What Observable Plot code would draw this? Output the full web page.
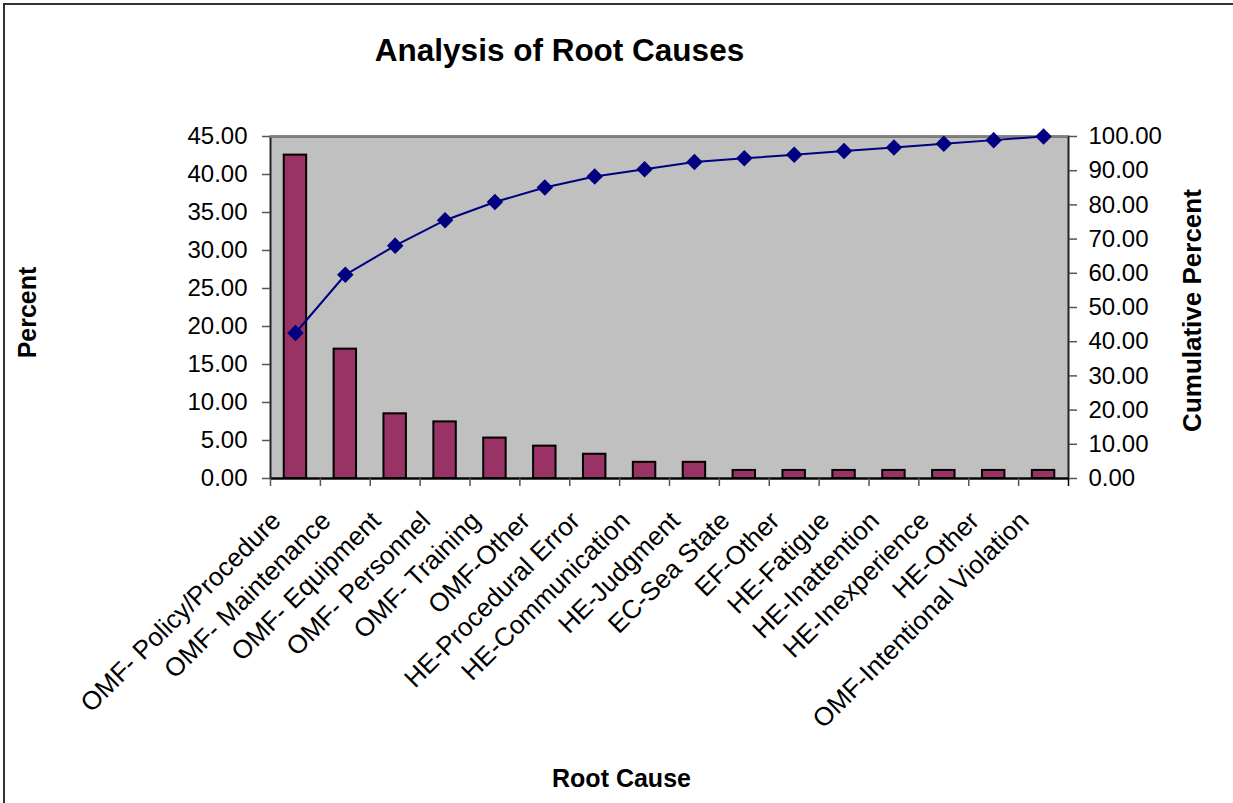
<!DOCTYPE html>
<html>
<head>
<meta charset="utf-8">
<script src="https://cdn.jsdelivr.net/npm/d3@7"></script>
<script src="https://cdn.jsdelivr.net/npm/@observablehq/plot@0.6"></script>
<style>
  html, body { margin: 0; padding: 0; background: #fff; overflow: hidden; }
  #page { position: relative; width: 1233px; height: 803px; }
  #edge { position: absolute; left: 3px; top: 3px; width: 1260px; height: 830px;
          border-left: 2px solid #333; border-top: 2px solid #333; box-sizing: border-box; }
  #chart { position: absolute; left: 0; top: 0; }
</style>
</head>
<body>
<div id="page">
  <div id="edge"></div>
  <div id="chart"></div>
</div>
<script>
// Root causes, sorted by share of incidents (Pareto order)
const causes = [
  "OMF- Policy/Procedure", "OMF- Maintenance", "OMF- Equipment", "OMF- Personnel",
  "OMF- Training", "OMF-Other", "HE-Procedural Error", "HE-Communication",
  "HE-Judgment", "EC-Sea State", "EF-Other", "HE-Fatigue",
  "HE-Inattention", "HE-Inexperience", "HE-Other", "OMF-Intentional Violation"
];
// Percent of incidents per cause
const percent = [42.55, 17.02, 8.51, 7.45, 5.32, 4.26, 3.19, 2.13, 2.13, 1.06, 1.06, 1.06, 1.06, 1.06, 1.06, 1.06];
// Running total of the percentages
const cumulativePercent = [42.55, 59.57, 68.09, 75.53, 80.85, 85.11, 88.30, 90.43, 92.55, 93.62, 94.68, 95.74, 96.81, 97.87, 98.94, 100.00];
// Axis ticks
const percentTicks = [0, 5, 10, 15, 20, 25, 30, 35, 40, 45];
const cumulativeTicks = [0, 10, 20, 30, 40, 50, 60, 70, 80, 90, 100];

const leftMax = 45, rightMax = 100;
const toLeft = v => v * leftMax / rightMax;   // right-axis value -> left-axis units

const rows = causes.map((cause, i) => ({cause, percent: percent[i], cumulative: cumulativePercent[i]}));

const marginLeft = 270, marginRight = 165, width = 1233;
const step = (width - marginLeft - marginRight) / causes.length;  // band step in px
const font = "'Liberation Sans', Arial, sans-serif";

const chart = Plot.plot({
  width,
  height: 803,
  marginLeft,
  marginRight,
  marginTop: 136,
  marginBottom: 325,
  style: {fontFamily: font, fontSize: "24px", background: "transparent", color: "#000", overflow: "visible"},
  x: {domain: causes, paddingInner: 0.55, paddingOuter: 0.275, round: false, axis: null, label: null},
  y: {domain: [0, leftMax], axis: null, label: null},
  marks: [
    // plot area
    Plot.frame({fill: "#c0c0c0", stroke: "#222", strokeWidth: 2}),
    Plot.ruleY([leftMax], {stroke: "#808080", strokeWidth: 2}),

    // percent bars
    Plot.barY(rows, {x: "cause", y: "percent", fill: "#993366", stroke: "#000", strokeWidth: 2}),

    // baseline
    Plot.ruleY([0], {stroke: "#000", strokeWidth: 2}),

    // category boundary ticks
    Plot.axisX({tickSize: 8, tickFormat: () => "", dx: -step / 2, stroke: "#555", strokeWidth: 1.5, label: null}),
    Plot.axisX({ticks: [causes[causes.length - 1]], tickSize: 8, tickFormat: () => "", dx: step / 2, stroke: "#000", strokeWidth: 1.5, label: null}),
    // rotated category labels
    Plot.axisX({tickSize: 0, tickPadding: 38, tickRotate: -45, dx: -19, fontSize: 26, label: null}),

    // left axis: percent
    Plot.axisY({anchor: "left", ticks: percentTicks, tickSize: 8, tickPadding: 15, stroke: "#555", strokeWidth: 1.5,
                tickFormat: d => d.toFixed(2), fontSize: 24, label: null}),
    // right axis: cumulative percent
    Plot.axisY({anchor: "right", ticks: cumulativeTicks.map(toLeft), tickSize: 8, tickPadding: 12, stroke: "#555", strokeWidth: 1.5,
                tickFormat: d => (d * rightMax / leftMax).toFixed(2), fontSize: 24, label: null}),

    // cumulative line with diamond markers
    Plot.line(rows, {x: "cause", y: d => toLeft(d.cumulative), stroke: "#000080", strokeWidth: 2}),
    Plot.dot(rows, {x: "cause", y: d => toLeft(d.cumulative), symbol: "diamond2", r: 6.5, fill: "#000080", stroke: "#000080"}),

    // titles
    Plot.text(["Analysis of Root Causes"], {frameAnchor: "middle", dx: -110, dy: -257, fontSize: 31.5, fontWeight: "bold", fill: "#000"}),
    Plot.text(["Percent"], {frameAnchor: "middle", dx: -642, dy: 5, rotate: -90, fontSize: 25, fontWeight: "bold", fill: "#000"}),
    Plot.text(["Cumulative Percent"], {frameAnchor: "middle", dx: 523, dy: 3, rotate: -90, fontSize: 26, fontWeight: "bold", fill: "#000"}),
    Plot.text(["Root Cause"], {frameAnchor: "middle", dx: -48, dy: 471, fontSize: 25, fontWeight: "bold", fill: "#000"})
  ]
});

document.getElementById("chart").append(chart);
</script>
</body>
</html>
